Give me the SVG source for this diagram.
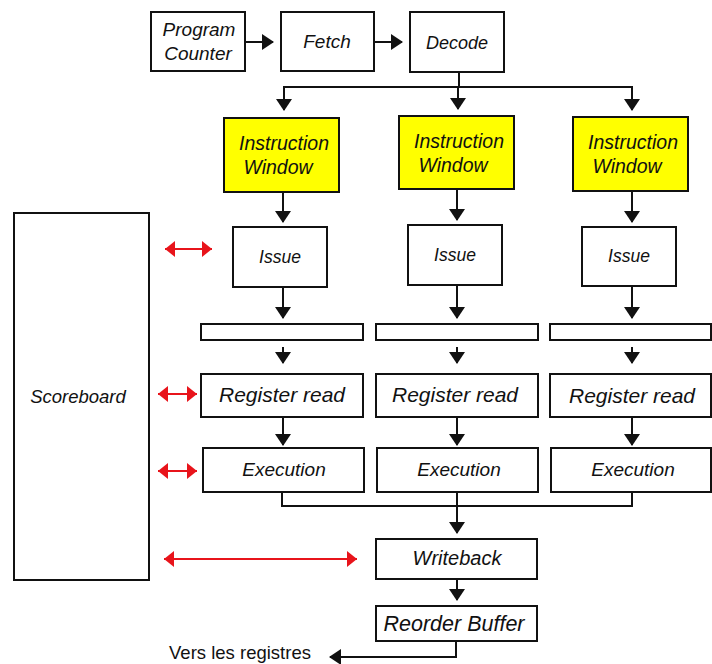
<svg xmlns="http://www.w3.org/2000/svg" width="712" height="664" viewBox="0 0 712 664">
<style>
.box{fill:#fff;stroke:#111;stroke-width:2}
.yel{fill:#ffff00;stroke:#111;stroke-width:2}
.t{font-family:"Liberation Sans",Arial,sans-serif;font-style:italic;font-size:19px;fill:#111;text-anchor:middle}
.c{fill:none;stroke:#111;stroke-width:2}
.r{fill:none;stroke:#e8141b;stroke-width:2}
</style>
<defs>
<marker id="ah" markerWidth="13" markerHeight="16" refX="11" refY="8" orient="auto" markerUnits="userSpaceOnUse">
<path d="M0,0 L12,8 L0,16 Z" fill="#111"/>
</marker>
<marker id="rh" markerWidth="12" markerHeight="16" refX="10" refY="8" orient="auto-start-reverse" markerUnits="userSpaceOnUse">
<path d="M0,0 L10,8 L0,16 Z" fill="#e8141b"/>
</marker>
</defs>
<rect width="712" height="664" fill="#fff"/>

<g id="pc"><rect class="box" x="151" y="12" width="94" height="59"/><text class="t"><tspan x="199" y="36">Program</tspan><tspan x="198" y="60">Counter</tspan></text></g>
<g id="fetch"><rect class="box" x="281" y="12" width="93" height="59"/><text class="t" x="327" y="48">Fetch</text></g>
<g id="decode"><rect class="box" x="410" y="12" width="94" height="60"/><text class="t" x="457" y="49" style="font-size:18px">Decode</text></g>

<g id="iw1"><rect class="yel" x="224" y="118" width="115" height="74"/><text class="t" style="font-size:19.5px"><tspan x="284" y="150">Instruction</tspan><tspan x="278" y="174">Window</tspan></text></g>
<g id="iw2"><rect class="yel" x="399" y="116" width="115" height="73"/><text class="t" style="font-size:19.5px"><tspan x="459" y="148">Instruction</tspan><tspan x="453" y="172">Window</tspan></text></g>
<g id="iw3"><rect class="yel" x="573" y="117" width="115" height="74"/><text class="t" style="font-size:19.5px"><tspan x="633" y="149">Instruction</tspan><tspan x="627" y="173">Window</tspan></text></g>

<g id="issue1"><rect class="box" x="233" y="227" width="94" height="60"/><text class="t" x="280" y="263" style="font-size:17.5px">Issue</text></g>
<g id="issue2"><rect class="box" x="408" y="225" width="94" height="60"/><text class="t" x="455" y="261" style="font-size:17.5px">Issue</text></g>
<g id="issue3"><rect class="box" x="582" y="227" width="94" height="59"/><text class="t" x="629" y="262" style="font-size:17.5px">Issue</text></g>

<g id="buf1"><rect class="box" x="201" y="324" width="162" height="16"/></g>
<g id="buf2"><rect class="box" x="376" y="324" width="162" height="16"/></g>
<g id="buf3"><rect class="box" x="550" y="324" width="161" height="16"/></g>

<g id="rr1"><rect class="box" x="201" y="374" width="162" height="43"/><text class="t" x="282" y="402" style="font-size:21px">Register read</text></g>
<g id="rr2"><rect class="box" x="376" y="374" width="162" height="43"/><text class="t" x="455" y="402" style="font-size:21px">Register read</text></g>
<g id="rr3"><rect class="box" x="550" y="374" width="161" height="43"/><text class="t" x="632" y="403" style="font-size:21px">Register read</text></g>

<g id="ex1"><rect class="box" x="203" y="448" width="161" height="44"/><text class="t" x="284" y="476">Execution</text></g>
<g id="ex2"><rect class="box" x="377" y="448" width="161" height="44"/><text class="t" x="459" y="476">Execution</text></g>
<g id="ex3"><rect class="box" x="551" y="448" width="160" height="44"/><text class="t" x="633" y="476">Execution</text></g>

<g id="scoreboard"><rect class="box" x="14" y="213" width="135" height="367"/><text class="t" x="78" y="403" style="font-size:18.5px">Scoreboard</text></g>
<g id="writeback"><rect class="box" x="376" y="539" width="161" height="40"/><text class="t" x="457" y="565" style="font-size:20px">Writeback</text></g>
<g id="rob"><rect class="box" x="376" y="606" width="161" height="35"/><text class="t" x="454" y="631" style="font-size:21.5px">Reorder Buffer</text></g>
<g id="vers"><text x="240" y="659" font-family="'Liberation Sans',Arial,sans-serif" font-size="18.5" fill="#111" text-anchor="middle">Vers les registres</text></g>

<g id="connectors">
<line class="c" x1="245" y1="42" x2="273" y2="42" marker-end="url(#ah)"/>
<line class="c" x1="374" y1="42" x2="402" y2="42" marker-end="url(#ah)"/>
<line class="c" x1="459" y1="72" x2="459" y2="87"/>
<line class="c" x1="283" y1="87" x2="633" y2="87"/>
<line class="c" x1="284" y1="86" x2="284" y2="110" marker-end="url(#ah)"/>
<line class="c" x1="458" y1="86" x2="458" y2="109" marker-end="url(#ah)"/>
<line class="c" x1="632" y1="86" x2="632" y2="110" marker-end="url(#ah)"/>

<line class="c" x1="283" y1="192" x2="283" y2="222" marker-end="url(#ah)"/>
<line class="c" x1="457" y1="189" x2="457" y2="220" marker-end="url(#ah)"/>
<line class="c" x1="632" y1="191" x2="632" y2="222" marker-end="url(#ah)"/>

<line class="c" x1="283" y1="287" x2="283" y2="318" marker-end="url(#ah)"/>
<line class="c" x1="457" y1="285" x2="457" y2="318" marker-end="url(#ah)"/>
<line class="c" x1="632" y1="286" x2="632" y2="318" marker-end="url(#ah)"/>

<line class="c" x1="283" y1="347" x2="283" y2="363" marker-end="url(#ah)"/>
<line class="c" x1="457" y1="347" x2="457" y2="363" marker-end="url(#ah)"/>
<line class="c" x1="632" y1="347" x2="632" y2="363" marker-end="url(#ah)"/>

<line class="c" x1="283" y1="417" x2="283" y2="445" marker-end="url(#ah)"/>
<line class="c" x1="457" y1="417" x2="457" y2="445" marker-end="url(#ah)"/>
<line class="c" x1="632" y1="417" x2="632" y2="445" marker-end="url(#ah)"/>

<polyline class="c" points="282,492 282,506 632,506 632,492"/>
<line class="c" x1="457" y1="492" x2="457" y2="533" marker-end="url(#ah)"/>
<line class="c" x1="457" y1="579" x2="457" y2="600" marker-end="url(#ah)"/>
<polyline class="c" points="456,641 456,657 330,657" marker-end="url(#ah)"/>

<line class="r" x1="165" y1="249" x2="212" y2="249" marker-start="url(#rh)" marker-end="url(#rh)"/>
<line class="r" x1="158" y1="394" x2="197" y2="394" marker-start="url(#rh)" marker-end="url(#rh)"/>
<line class="r" x1="158" y1="471" x2="197" y2="471" marker-start="url(#rh)" marker-end="url(#rh)"/>
<line class="r" x1="164" y1="559" x2="357" y2="559" marker-start="url(#rh)" marker-end="url(#rh)"/>
</g>
</svg>
